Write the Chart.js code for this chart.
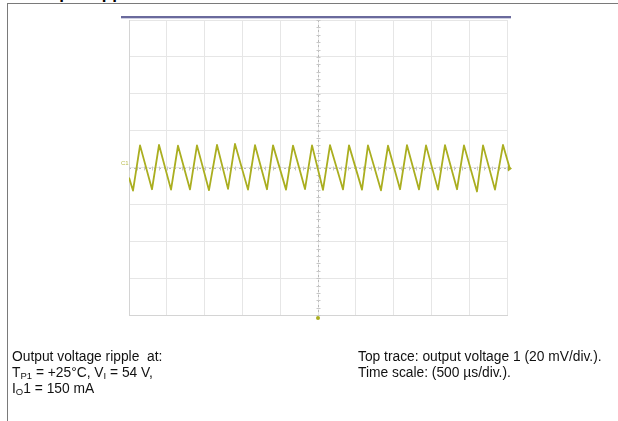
<!DOCTYPE html>
<html lang="en">
<head>
  <meta charset="UTF-8">
  <title>Output voltage ripple</title>
  <script src="https://cdn.jsdelivr.net/npm/chart.js"></script>
  <style>
    html, body {
      margin: 0;
      padding: 0;
      background: #fff;
      width: 618px;
      height: 421px;
      overflow: hidden;
      font-family: "Liberation Sans", Arial, sans-serif;
    }
    #page {
      position: absolute;
      left: 0; top: 0;
      width: 618px; height: 421px;
      overflow: hidden;
    }
    #frame {
      position: absolute;
      left: 7px; top: 3px;
      width: 640px; height: 440px;
      border-top: 1px solid #7a7a7a;
      border-left: 1px solid #7a7a7a;
    }
    #heading {
      position: absolute;
      left: 30px; top: -16px;
      font-weight: bold;
      font-size: 17px;
      color: #000;
    }
    #scope {
      position: absolute;
      left: 0; top: 0;
    }
    .note {
      position: absolute;
      font-size: 13.8px;
      line-height: 16px;
      color: #111;
      white-space: pre;
    }
    .note sub {
      font-size: 9.5px;
      vertical-align: -2px;
      line-height: 0;
    }
  </style>
</head>
<body>
  <div id="page">
    <div id="heading">Output ripple</div>
    <div id="frame"></div>
    <canvas id="scope" width="618" height="421"></canvas>
    <div class="note" style="left:12px; top:349px;">Output voltage ripple  at:
T<sub>P1</sub> = +25°C, V<sub>I</sub> = 54 V,
I<sub>O</sub>1 = 150 mA</div>
    <div class="note" style="left:358px; top:349px;">Top trace: output voltage 1 (20 mV/div.).
Time scale: (500 µs/div.).</div>
  </div>

  <script>
    // time axis: 10 div x 500 us, voltage axis: 8 div x 20 mV
    const timeMin = 0;
    const timeMax = 5000;
    const timeStep = 500;
    const voltMin = -80;
    const voltMax = 80;
    const voltStep = 20;

    // trace: troughs and peaks of the ripple (us, mV)
    const traceTime = [0, 53, 146, 304, 397, 556, 648, 807, 899, 1058, 1164, 1310, 1402, 1574, 1667,
      1825, 1905, 2077, 2169, 2328, 2421, 2566, 2659, 2831, 2910, 3082, 3161, 3333, 3426, 3585, 3677,
      3836, 3929, 4087, 4180, 4339, 4431, 4603, 4683, 4841, 4947, 5040];
    const traceVolt = [-5.5, -12.5, 12.0, -11.8, 12.2, -12.0, 11.8, -11.9, 12.0, -12.3, 12.2, -11.6, 12.8, -12.0, 12.1,
      -11.8, 12.0, -12.0, 11.9, -11.7, 12.0, -12.1, 12.1, -11.9, 12.0, -12.0, 12.0, -12.4, 11.8, -11.8, 12.1,
      -11.9, 12.0, -12.0, 12.1, -11.8, 12.0, -13.0, 12.0, -12.0, 12.2, -1.0];

    const tracePoints = traceTime.map((t, i) => ({ x: t, y: traceVolt[i] }));

    const traceColor = 'rgb(170, 174, 32)';

    // centre cross-hair, top bar and channel markers of the scope screen
    const scopeDecor = {
      id: 'scopeDecor',
      beforeDatasetsDraw(chart) {
        const { ctx, chartArea, scales } = chart;
        const cx = Math.round(scales.x.getPixelForValue((timeMin + timeMax) / 2)) + 0.5;
        const cy = Math.round(scales.y.getPixelForValue(0)) + 0.5;
        ctx.save();
        ctx.strokeStyle = '#b8b8b8';
        ctx.lineWidth = 1;
        ctx.setLineDash([2, 3]);
        ctx.beginPath();
        ctx.moveTo(cx, chartArea.top);
        ctx.lineTo(cx, chartArea.bottom);
        ctx.moveTo(chartArea.left, cy);
        ctx.lineTo(chartArea.right, cy);
        ctx.stroke();
        ctx.setLineDash([]);
        // minor ticks on the centre lines
        ctx.strokeStyle = '#c8c8c8';
        ctx.beginPath();
        const dx = (scales.x.getPixelForValue(timeStep) - scales.x.getPixelForValue(0)) / 5;
        for (let x = chartArea.left; x <= chartArea.right + 0.1; x += dx) {
          ctx.moveTo(Math.round(x) + 0.5, cy - 2);
          ctx.lineTo(Math.round(x) + 0.5, cy + 2);
        }
        const dy = (scales.y.getPixelForValue(0) - scales.y.getPixelForValue(voltStep)) / 5;
        for (let y = chartArea.top; y <= chartArea.bottom + 0.1; y += dy) {
          ctx.moveTo(cx - 2, Math.round(y) + 0.5);
          ctx.lineTo(cx + 2, Math.round(y) + 0.5);
        }
        ctx.stroke();
        ctx.restore();
      },
      afterDraw(chart) {
        const { ctx, chartArea, scales } = chart;
        const cx = scales.x.getPixelForValue((timeMin + timeMax) / 2);
        const cy = scales.y.getPixelForValue(0);
        ctx.save();
        // header bar
        ctx.fillStyle = '#6a6a9c';
        ctx.fillRect(chartArea.left - 8, chartArea.top - 4, chartArea.width + 12, 2);
        ctx.fillStyle = '#cfcfe2';
        ctx.fillRect(chartArea.left - 8, chartArea.top - 2, chartArea.width + 12, 1);
        // channel label on the left
        ctx.fillStyle = '#b9bc50';
        ctx.font = '6px "Liberation Sans", Arial, sans-serif';
        ctx.textBaseline = 'middle';
        ctx.fillText('C1', chartArea.left - 8, cy - 4);
        // trigger level arrow on the right
        ctx.fillStyle = traceColor;
        ctx.beginPath();
        ctx.moveTo(chartArea.right + 1, cy - 2);
        ctx.lineTo(chartArea.right + 5, cy + 1);
        ctx.lineTo(chartArea.right + 1, cy + 4);
        ctx.closePath();
        ctx.fill();
        // trigger position marker at the bottom
        ctx.beginPath();
        ctx.arc(cx, chartArea.bottom + 3, 2, 0, Math.PI * 2);
        ctx.fill();
        ctx.restore();
      }
    };

    const ctx = document.getElementById('scope').getContext('2d');
    new Chart(ctx, {
      type: 'line',
      data: {
        datasets: [{
          label: 'Output voltage 1',
          data: tracePoints,
          borderColor: traceColor,
          borderWidth: 1.8,
          borderJoinStyle: 'round',
          pointRadius: 0,
          tension: 0,
          clip: { left: 0, top: 0, right: 4, bottom: 0 }
        }]
      },
      options: {
        responsive: false,
        animation: false,
        devicePixelRatio: 1,
        layout: {
          padding: { left: 129, right: 111, top: 20, bottom: 106 }
        },
        plugins: {
          legend: { display: false },
          tooltip: { enabled: false },
          title: { display: false }
        },
        scales: {
          x: {
            type: 'linear',
            min: timeMin,
            max: timeMax,
            ticks: { display: false, stepSize: timeStep },
            grid: { color: '#e6e6e6', drawTicks: false },
            border: { display: true, color: '#d4d4d4' }
          },
          y: {
            type: 'linear',
            min: voltMin,
            max: voltMax,
            ticks: { display: false, stepSize: voltStep },
            grid: { color: '#e6e6e6', drawTicks: false },
            border: { display: true, color: '#d4d4d4' }
          }
        }
      },
      plugins: [scopeDecor]
    });
  </script>
</body>
</html>
